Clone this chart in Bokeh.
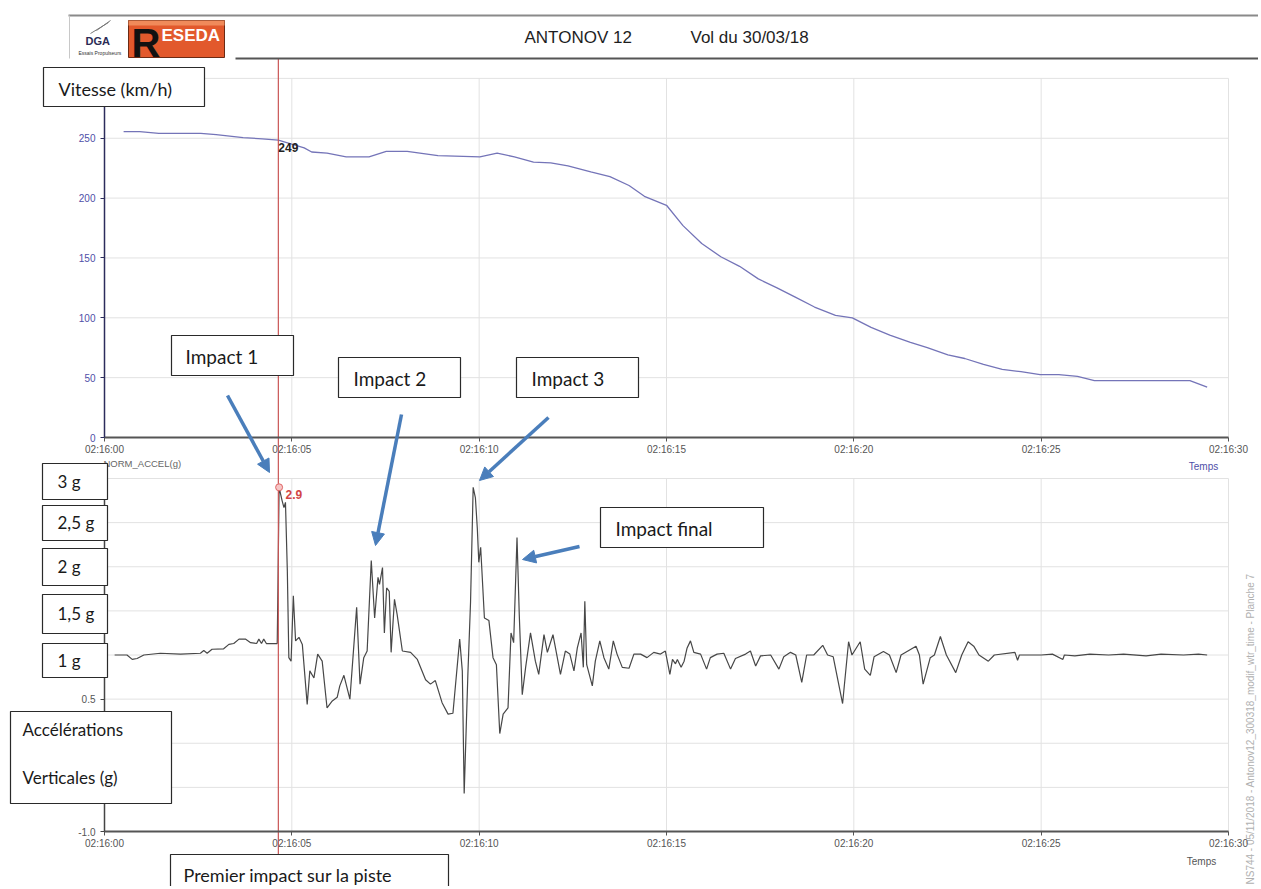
from bokeh.plotting import figure
from bokeh.models import Range1d, LinearAxis, FixedTicker, NumeralTickFormatter, Arrow, NormalHead
from bokeh.embed import file_html
from bokeh.resources import INLINE
from bokeh.core.properties import value
import math

# ---------------- data ----------------
TIME_TICKS = [0, 5, 10, 15, 20, 25, 30]
TIME_LABELS = ["02:16:00", "02:16:05", "02:16:10", "02:16:15", "02:16:20", "02:16:25", "02:16:30"]
SPEED_TICKS = [0, 50, 100, 150, 200, 250]
SPEED_TOP = 300
ACC_TICKS = [-1.0, -0.5, 0.0, 0.5, 1.0, 1.5, 2.0, 2.5, 3.0]

speed_t = [0.51, 0.94, 1.45, 2.57, 2.98, 3.70, 4.21, 4.64, 5.33, 5.53, 5.94, 6.45, 7.06, 7.52,
           8.08, 8.90, 10.02, 10.48, 10.94, 11.45, 11.91, 12.37, 12.98, 13.49, 14.00, 14.41,
           15.00, 15.44, 15.94, 16.45, 16.95, 17.45, 17.95, 18.45, 18.95, 19.51, 19.96, 20.46,
           20.96, 21.51, 21.96, 22.51, 22.96, 23.46, 23.96, 24.46, 24.97, 25.47, 25.97, 26.42,
           27.37, 28.97, 29.43]
speed_kmh = [255.5, 255.5, 254, 254, 253, 250.5, 249.5, 248.5, 242, 238.5, 237.5, 234.5, 234.5, 239,
             239, 235.5, 234.5, 237.5, 234.5, 230, 229.5, 227, 222, 218, 210.5, 201.5,
             194, 177, 162, 151, 143, 132.5, 125, 117, 109, 102, 100, 92,
             85.5, 79.5, 75, 69, 66, 61, 57, 55, 52.5, 52.5, 51, 47.5,
             47.5, 47.5, 42]

acc_t = [0.27, 0.60, 0.74, 0.87, 1.05, 1.49, 2.03, 2.56, 2.65, 2.74, 2.87, 3.18, 3.32, 3.45,
         3.59, 3.76, 3.90, 4.06, 4.12, 4.19, 4.25, 4.32, 4.61, 4.63, 4.66, 4.74, 4.79, 4.83,
         4.88, 4.92, 4.98, 5.04, 5.10, 5.19, 5.28, 5.41, 5.48, 5.59, 5.69, 5.81, 5.94, 6.08,
         6.21, 6.28, 6.39, 6.55, 6.73, 6.82, 6.92, 7.01, 7.12, 7.21, 7.30, 7.34, 7.42, 7.47,
         7.53, 7.60, 7.65, 7.74, 7.81, 7.95, 8.17, 8.35, 8.57, 8.70, 8.83, 9.01, 9.17, 9.30,
         9.48, 9.55, 9.60, 9.70, 9.77, 9.84, 9.90, 9.95, 9.99, 10.04, 10.14, 10.26, 10.37,
         10.46, 10.55, 10.64, 10.77, 10.85, 10.92, 11.01, 11.07, 11.15, 11.24, 11.37, 11.50,
         11.59, 11.73, 11.82, 11.97, 12.17, 12.30, 12.42, 12.53, 12.62, 12.72, 12.78, 12.82,
         12.87, 13.02, 13.10, 13.22, 13.33, 13.46, 13.58, 13.68, 13.82, 14.00, 14.13, 14.31,
         14.48, 14.66, 14.84, 14.97, 15.09, 15.16, 15.24, 15.29, 15.39, 15.47, 15.55, 15.64,
         15.73, 15.91, 16.07, 16.17, 16.35, 16.53, 16.71, 16.84, 17.11, 17.24, 17.38, 17.51,
         17.78, 18.00, 18.13, 18.31, 18.45, 18.61, 18.74, 18.93, 19.17, 19.30, 19.45, 19.70,
         19.86, 19.95, 20.17, 20.29, 20.44, 20.54, 20.79, 20.95, 21.13, 21.26, 21.66, 21.75,
         21.85, 22.04, 22.15, 22.31, 22.47, 22.72, 22.88, 23.05, 23.20, 23.34, 23.59, 23.75,
         24.30, 24.37, 24.42, 25.00, 25.30, 25.58, 25.62, 25.90, 26.30, 26.80, 27.20, 27.80,
         28.20, 28.80, 29.20, 29.43]
acc_g = [1.00, 1.00, 0.95, 0.96, 1.00, 1.02, 1.01, 1.02, 1.05, 1.02, 1.065, 1.07, 1.12, 1.13,
         1.18, 1.18, 1.14, 1.13, 1.18, 1.13, 1.18, 1.13, 1.13, 1.80, 2.90, 2.75, 2.67, 2.73,
         1.95, 0.97, 0.93, 1.67, 1.16, 1.20, 1.12, 0.44, 0.82, 0.74, 1.01, 0.93, 0.40, 0.48,
         0.52, 0.65, 0.77, 0.50, 1.54, 0.67, 0.97, 1.045, 2.07, 1.42, 1.88, 1.80, 1.99, 1.25,
         1.76, 1.72, 1.03, 1.63, 1.46, 1.045, 1.03, 0.95, 0.72, 0.67, 0.71, 0.46, 0.33, 0.34,
         1.18, 0.82, -0.57, 0.80, 1.60, 2.90, 2.78, 2.44, 2.05, 2.22, 1.42, 1.39, 0.97,
         0.89, 0.11, 0.33, 0.40, 1.25, 1.14, 2.33, 1.46, 0.55, 0.86, 1.25, 0.93,
         0.78, 1.23, 1.03, 1.23, 0.78, 1.045, 1.01, 0.82, 1.08, 1.25, 0.86, 1.61,
         0.89, 0.65, 0.93, 1.16, 0.97, 0.84, 1.16, 1.01, 0.86, 0.85, 1.01, 1.01,
         0.97, 1.03, 1.01, 1.045, 0.78, 0.95, 0.90, 0.95, 0.86, 0.93, 1.08, 1.16,
         1.03, 1.01, 0.84, 0.97, 1.01, 1.02, 0.84, 0.96, 1.01, 1.045, 0.875, 0.99,
         1.00, 0.84, 0.98, 1.03, 1.00, 0.69, 1.00, 1.00, 1.11, 1.00, 0.98, 0.45,
         1.15, 1.00, 1.15, 0.84, 0.77, 0.98, 1.04, 1.00, 0.80, 1.00, 1.10, 1.00,
         0.67, 0.97, 1.00, 1.21, 1.00, 0.80, 1.00, 1.15, 1.10, 1.00, 0.93, 1.00,
         1.03, 0.94, 1.00, 1.00, 1.01, 0.95, 1.00, 0.99, 1.01, 1.00, 1.01, 0.99,
         1.01, 1.00, 1.01, 1.00]

IMPACT_T = 4.64
SPEED_AT_IMPACT = "249"
PEAK_T, PEAK_G = 4.66, 2.9

# ---------------- geometry (page pixels of the reference) ----------------
W, H = 1258, 886
OX, OY = 0, 0
CH_L, CH_R = 104, 1228          # time 0 s / 30 s
PXS = (CH_R - CH_L) / 30.0
SP_Y0, SP_K = 437, 1.197        # speed 0 at y=437, px per km/h
AC_Y0, AC_K = 831, 88.25        # -1 g at y=831, px per g

x_rng = Range1d((OX - CH_L) / PXS, (OX + W - CH_L) / PXS)
sp_rng = Range1d(-((OY + H) - SP_Y0) / SP_K, (SP_Y0 - OY) / SP_K)
ac_rng = Range1d(-1 - ((OY + H) - AC_Y0) / AC_K, -1 + (AC_Y0 - OY) / AC_K)

p = figure(width=W, height=H, x_range=x_rng, y_range=sp_rng,
           x_axis_location=None, y_axis_location=None,
           toolbar_location=None, output_backend="svg", min_border=0,
           outline_line_color=None, background_fill_color="white", border_fill_color="white")
p.xgrid.grid_line_color = None
p.ygrid.grid_line_color = None
p.extra_x_ranges = {"px": Range1d(OX, OX + W)}
p.extra_y_ranges = {"px": Range1d(OY + H, OY), "acc": ac_rng}

GRID = "#e2e2e2"
# grids (from tick arrays)
p.segment(x0=0, x1=30, y0=SPEED_TICKS[1:] + [SPEED_TOP], y1=SPEED_TICKS[1:] + [SPEED_TOP],
          line_color=GRID, line_width=1, level="underlay")
p.segment(x0=TIME_TICKS[1:], x1=TIME_TICKS[1:], y0=0, y1=SPEED_TOP,
          line_color=GRID, line_width=1, level="underlay")
p.segment(x0=0, x1=30, y0=ACC_TICKS[1:], y1=ACC_TICKS[1:], y_range_name="acc",
          line_color=GRID, line_width=1, level="underlay")
p.segment(x0=TIME_TICKS[1:], x1=TIME_TICKS[1:], y0=-1, y1=3, y_range_name="acc",
          line_color=GRID, line_width=1, level="underlay")

# data lines
p.line(speed_t, speed_kmh, line_color="#7474b8", line_width=1.3)
p.line(acc_t, acc_g, y_range_name="acc", line_color="#474747", line_width=1.2)

# cursor
p.segment(x0=IMPACT_T, x1=IMPACT_T, y0=58, y1=856, y_range_name="px",
          line_color="#c95555", line_width=1.2)
p.scatter(x=[PEAK_T], y=[PEAK_G], y_range_name="acc", marker="circle", size=7,
          fill_color="#f6c6c6", line_color="#e06666", line_width=1)
p.text(x=[PEAK_T + 0.17], y=[PEAK_G - 0.08], text=[str(PEAK_G)], y_range_name="acc",
       text_color="#d24545", text_font=value("Liberation Sans"), text_font_size="12px",
       text_font_style="bold", text_baseline="middle", text_align="left")
p.text(x=[IMPACT_T], y=[242], text=[SPEED_AT_IMPACT],
       text_color="#222222", text_font=value("Liberation Sans"), text_font_size="12px",
       text_font_style="bold", text_baseline="middle", text_align="left")

# axes
overrides = {t: l for t, l in zip(TIME_TICKS, TIME_LABELS)}

def style(ax, line_col, lab_col, lw):
    ax.axis_line_color = line_col
    ax.axis_line_width = lw
    ax.major_tick_line_color = line_col
    ax.major_tick_line_width = 1
    ax.major_tick_out = 4
    ax.major_tick_in = 0
    ax.minor_tick_line_color = None
    ax.major_label_text_color = lab_col
    ax.major_label_text_font = "Liberation Sans"
    ax.major_label_text_font_size = "10px"

ax_v = LinearAxis(ticker=FixedTicker(ticks=SPEED_TICKS), fixed_location=0, bounds=(0, SPEED_TOP))
style(ax_v, "#2c2c5c", "#4f4fa8", 1.5)
ax_v.major_label_standoff = 5
p.add_layout(ax_v, "left")

ax_a = LinearAxis(y_range_name="acc", ticker=FixedTicker(ticks=ACC_TICKS),
                  formatter=NumeralTickFormatter(format="0.0"), fixed_location=0, bounds=(-1, 3))
style(ax_a, "#444444", "#555555", 1.5)
ax_a.major_label_standoff = 5
p.add_layout(ax_a, "left")

ax_t1 = LinearAxis(ticker=FixedTicker(ticks=TIME_TICKS), fixed_location=0, bounds=(0, 30),
                   major_label_overrides=overrides)
style(ax_t1, "#555555", "#555555", 2)
ax_t1.major_label_standoff = 2
p.add_layout(ax_t1, "below")

ax_t2 = LinearAxis(y_range_name="acc", ticker=FixedTicker(ticks=TIME_TICKS), fixed_location=-1.0,
                   bounds=(0, 30), major_label_overrides=overrides)
style(ax_t2, "#555555", "#555555", 2)
ax_t2.major_label_standoff = 2
p.add_layout(ax_t2, "below")

# small captions
def ptext(x, y, s, size, color, font="Liberation Sans", align="left", style="normal",
          level="glyph", angle=0.0):
    p.text(x=[x], y=[y], text=[s], x_range_name="px", y_range_name="px",
           text_color=color, text_font=value(font), text_font_size=size, angle=angle,
           text_font_style=style, text_align=align, text_baseline="middle", level=level)

ptext(103, 463, "NORM_ACCEL(g)", "9.5px", "#666666")
ptext(1203, 466, "Temps", "10px", "#4f4fa8", align="center")
ptext(1201, 861, "Temps", "10px", "#555555", align="center")
ptext(1250, 884, "NS744 - 05/11/2018 - Antonov12_300318_modif_wtr_time - Planche 7",
      "10px", "#b0b0b0", angle=math.pi / 2)

# header
p.segment(x0=[68, 235, 69], x1=[1261, 1261, 69], y0=[15, 58, 15], y1=[15, 58, 58],
          x_range_name="px", y_range_name="px",
          line_color=["#8a8a8a", "#555555", "#c8c8c8"], line_width=[2, 2, 1])
ptext(524, 37, "ANTONOV 12", "17px", "#1e1e1e")
ptext(690, 37, "Vol du 30/03/18", "17px", "#1e1e1e")
ptext(85, 40, "DGA", "11px", "#2b2b55", style="bold")
ptext(78, 52, "Essais Propulseurs", "5px", "#333333")
p.segment(x0=[90, 96], x1=[108, 110], y0=[33, 30], y1=[22, 20], x_range_name="px", y_range_name="px",
          line_color="#777777", line_width=1)
p.quad(left=[128], right=[224], top=[20], bottom=[57], x_range_name="px", y_range_name="px",
       fill_color="#e2592c", line_color="#6b2a14", line_width=1)
p.quad(left=[128], right=[224], top=[20], bottom=[25], x_range_name="px", y_range_name="px",
       fill_color="#f08a5a", line_color=None)
ptext(131, 42, "R", "40px", "#111111", style="bold")
ptext(161, 35, "ESEDA", "17px", "#ffffff", style="bold")

# annotation boxes
BOX_FONT = "Lato"
BOXES = [
    (["Vitesse (km/h)"], 43, 67, 204, 106, 58, [88], "18px"),
    (["Impact 1"], 171, 335, 293, 375, 185, [356], "19px"),
    (["Impact 2"], 338, 357, 460, 397, 353, [378], "19px"),
    (["Impact 3"], 516, 357, 638, 397, 531, [378], "19px"),
    (["Impact final"], 600, 507, 763, 547, 615, [528], "19px"),
    (["3 g"], 42, 463, 107, 499, 57, [481], "17px"),
    (["2,5 g"], 42, 505, 107, 540, 57, [522], "17px"),
    (["2 g"], 42, 548, 107, 585, 57, [566], "17px"),
    (["1,5 g"], 42, 594, 107, 633, 57, [613], "17px"),
    (["1 g"], 42, 643, 107, 677, 57, [660], "17px"),
    (["Accélérations", "Verticales (g)"], 10, 711, 171, 803, 22, [729, 777], "17px"),
    (["Premier impact sur la piste"], 170, 854, 448, 900, 183, [874], "18px"),
]
for lines, l, t, r, b, tx, tys, fs in BOXES:
    p.quad(left=[l], right=[r], top=[t], bottom=[b], x_range_name="px", y_range_name="px",
           fill_color="white", line_color="#2a2a2a", line_width=1.2, level="overlay")
    for s, ty in zip(lines, tys):
        ptext(tx, ty, s, fs, "#1a1a1a", font=BOX_FONT, level="overlay")

# arrows
BLUE = "#4a7ebb"
ARROWS = [(227, 395, 269, 472), (401, 414, 375, 545), (548, 417, 479, 480), (579, 546, 522, 559)]
for x0, y0, x1, y1 in ARROWS:
    p.add_layout(Arrow(end=NormalHead(size=13, fill_color=BLUE, line_color=BLUE, line_width=1),
                       x_start=x0, y_start=y0, x_end=x1, y_end=y1,
                       x_range_name="px", y_range_name="px",
                       line_color=BLUE, line_width=3.5))

open("out.html", "w").write(file_html(p, INLINE))
